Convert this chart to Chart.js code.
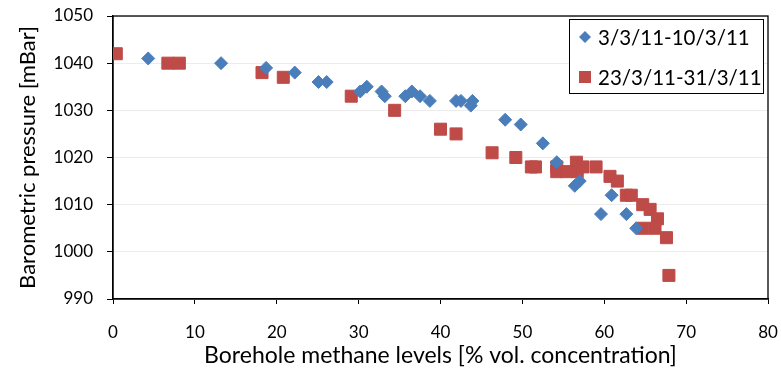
<!DOCTYPE html>
<html>
<head>
<meta charset="utf-8">
<script src="https://cdn.jsdelivr.net/npm/chart.js@4/dist/chart.umd.min.js"></script>
<style>
  html, body { margin: 0; padding: 0; background: #fff; }
  #wrap { width: 781px; height: 369px; }
</style>
</head>
<body>
<div id="wrap"><canvas id="chart" width="781" height="369"></canvas></div>
<script>
// Serie 1 : 3/3/11-10/3/11 (losanges bleus)
const seriesLabels = ['3/3/11-10/3/11', '23/3/11-31/3/11'];
const marchEarlyX = [4.3, 13.2, 18.7, 22.2, 25.1, 26.1, 30.2, 31.0, 32.8, 33.2, 35.7, 36.5, 37.5, 38.7,
  41.9, 42.5, 43.9, 43.7, 47.9, 49.8, 52.5, 54.2, 56.4, 57.0, 60.9, 59.6, 62.7, 63.9];
const marchEarlyY = [1041, 1040, 1039, 1038, 1036, 1036, 1034, 1035, 1034, 1033, 1033, 1034, 1033, 1032,
  1032, 1032, 1032, 1031, 1028, 1027, 1023, 1019, 1014, 1015, 1012, 1008, 1008, 1005];

// Serie 2 : 23/3/11-31/3/11 (carres rouges)
const marchLateX = [0.4, 6.7, 8.1, 18.2, 20.8, 29.1, 34.4, 40.0, 41.9, 46.3, 49.2, 51.1, 51.6, 54.2, 54.2,
  55.4, 56.6, 56.7, 57.4, 59.0, 60.7, 61.6, 62.7, 63.3, 64.7, 65.6, 66.5, 64.7, 66.2, 67.6, 67.9];
const marchLateY = [1042, 1040, 1040, 1038, 1037, 1033, 1030, 1026, 1025, 1021, 1020, 1018, 1018, 1018, 1017,
  1017, 1019, 1017, 1018, 1018, 1016, 1015, 1012, 1012, 1010, 1009, 1007, 1005, 1005, 1003, 995];

const xTicks = [0, 10, 20, 30, 40, 50, 60, 70, 80];
const yTicks = [990, 1000, 1010, 1020, 1030, 1040, 1050];

const BLUE = '#4a7ebb';
const RED = '#be4b48';
const FONT = 'Lato, "Open Sans", sans-serif';

const toPoints = (xs, ys) => xs.map((x, i) => ({ x, y: ys[i] }));

// cadre de la zone de tracé + légende à la Excel
const framePlugin = {
  id: 'frame',
  beforeDatasetsDraw(chart) {
    const a = chart.chartArea, ctx = chart.ctx;
    ctx.save();
    ctx.strokeStyle = '#000';
    ctx.lineWidth = 1.3;
    ctx.strokeRect(a.left, a.top, a.right - a.left, a.bottom - a.top);
    ctx.restore();
  },
  afterDraw(chart) {
    const a = chart.chartArea, ctx = chart.ctx;
    const bx = a.right - 199, by = a.top + 3, bw = 194, bh = 74;
    ctx.save();
    ctx.fillStyle = '#fff';
    ctx.fillRect(bx, by, bw, bh);
    ctx.strokeStyle = '#000';
    ctx.lineWidth = 1;
    ctx.strokeRect(bx + 0.5, by + 0.5, bw, bh);
    ctx.font = '20.5px ' + FONT;
    ctx.textBaseline = 'middle';
    ctx.fillStyle = '#000';
    chart.data.datasets.forEach((ds, i) => {
      const cy = by + 18 + i * 40, mx = bx + 16;
      ctx.fillStyle = ds.backgroundColor;
      ctx.beginPath();
      if (ds.pointStyle === 'rectRot') {
        ctx.moveTo(mx - 6, cy); ctx.lineTo(mx, cy - 6); ctx.lineTo(mx + 6, cy); ctx.lineTo(mx, cy + 6);
      } else {
        ctx.rect(mx - 6, cy - 6, 12, 12);
      }
      ctx.closePath();
      ctx.fill();
      ctx.fillStyle = '#000';
      ctx.fillText(ds.label, bx + 29, cy + 1);
    });
    ctx.restore();
  }
};

new Chart(document.getElementById('chart'), {
  type: 'scatter',
  data: {
    datasets: [
      {
        label: seriesLabels[0],
        data: toPoints(marchEarlyX, marchEarlyY),
        pointStyle: 'rectRot',
        pointRadius: 6.5,
        backgroundColor: BLUE,
        borderColor: BLUE,
        borderWidth: 1,
      },
      {
        label: seriesLabels[1],
        data: toPoints(marchLateX, marchLateY),
        pointStyle: 'rect',
        pointRadius: 8.5,
        backgroundColor: RED,
        borderColor: RED,
        borderWidth: 1,
      }
    ]
  },
  options: {
    responsive: false,
    animation: false,
    layout: { padding: { left: 0, right: 13, top: 16, bottom: 0 } },
    plugins: { legend: { display: false }, tooltip: { enabled: false } },
    scales: {
      x: {
        type: 'linear',
        min: xTicks[0], max: xTicks[xTicks.length - 1],
        afterBuildTicks: s => { s.ticks = xTicks.map(v => ({ value: v })); },
        afterFit: s => { s.height = 70; s.paddingLeft = 0; s.paddingRight = 0; },
        grid: { drawOnChartArea: false, drawTicks: true, tickLength: 5, tickColor: '#000' },
        border: { color: '#000', width: 1.3 },
        ticks: { color: '#000', font: { family: FONT, size: 17 }, padding: 18, callback: v => String(v) },
        title: { display: true, text: 'Borehole methane levels [% vol. concentration]', color: '#000',
          font: { family: FONT, size: 23 }, padding: { top: 0, bottom: 0 } }
      },
      y: {
        type: 'linear',
        min: yTicks[0], max: yTicks[yTicks.length - 1],
        afterBuildTicks: s => { s.ticks = yTicks.map(v => ({ value: v })); },
        afterFit: s => { s.width = 113; s.paddingTop = 0; s.paddingBottom = 0; },
        grid: { color: '#ececec', lineWidth: 1, drawTicks: true, tickLength: 6, tickColor: '#000' },
        border: { color: '#000', width: 1.3 },
        ticks: { color: '#000', font: { family: FONT, size: 17 }, padding: 14, callback: v => String(v) },
        title: { display: true, text: 'Barometric pressure [mBar]', color: '#000',
          font: { family: FONT, size: 22 }, padding: { top: 15, bottom: 0 } }
      }
    }
  },
  plugins: [framePlugin]
});
</script>
</body>
</html>
